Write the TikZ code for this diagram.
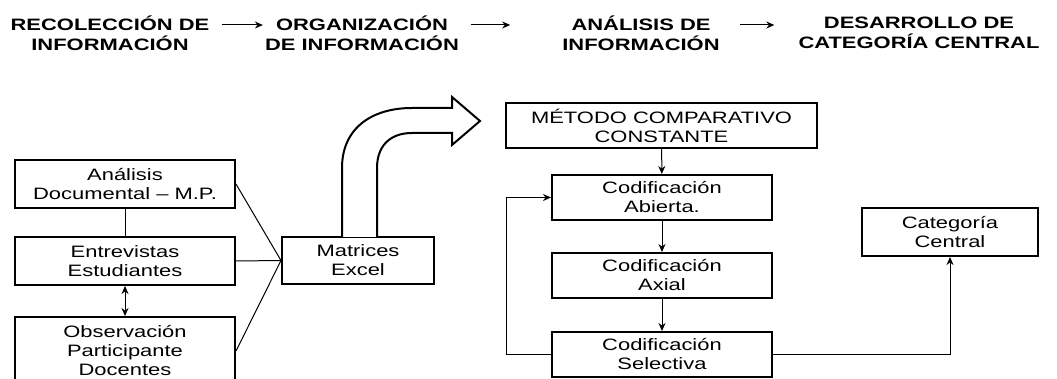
\documentclass[tikz,border=0pt]{standalone}
\usepackage{fontspec}
\setmainfont{Liberation Sans}[FakeStretch=1.33]
\usetikzlibrary{arrows.meta,positioning}

\tikzset{
  BoxStyle/.style={draw, line width=2pt, align=center, inner sep=0pt,
    font=\fontsize{16.5pt}{19pt}\selectfont},
  HeadStyle/.style={align=center, inner sep=0pt,
    font=\fontsize{16.5pt}{20pt}\selectfont\bfseries},
  LinkStyle/.style={line width=1pt},
  ArrowStyle/.style={LinkStyle, -{Stealth[length=8pt,width=7pt]}}
}

\begin{document}
\begin{tikzpicture}[x=1pt,y=-1pt]
  \useasboundingbox (0,0) rectangle (1057,379);

  % stages
  \node[HeadStyle] (recoleccion) at (110,33) {RECOLECCIÓN DE\\INFORMACIÓN};
  \node[HeadStyle] (organizacion) at (362,33) {ORGANIZACIÓN\\DE INFORMACIÓN};
  \node[HeadStyle] (analisisinf) at (641,33) {ANÁLISIS DE\\INFORMACIÓN};
  \node[HeadStyle] (desarrollo) at (919,33) {DESARROLLO DE\\CATEGORÍA CENTRAL};
  \draw[ArrowStyle] ([xshift=12pt]recoleccion.east |- 0,25) -- ([xshift=-2pt]organizacion.west |- 0,25);
  \draw[ArrowStyle] ([xshift=12pt]organizacion.east |- 0,25) -- ([xshift=-52pt]analisisinf.west |- 0,25);
  \draw[ArrowStyle] ([xshift=20pt]analisisinf.east |- 0,25) -- ([xshift=-24pt]desarrollo.west |- 0,25);

  % recoleccion
  \node[BoxStyle, minimum width=220pt, minimum height=48pt] (documental) at (125,184) {Análisis\\Documental -- M.P.};
  \node[BoxStyle, minimum width=220pt, minimum height=48pt] (entrevistas) at (125,261) {Entrevistas\\Estudiantes};
  \node[BoxStyle, minimum width=220pt, minimum height=68pt] (observacion) at (125,351) {Observación\\Participante\\Docentes};
  \node[BoxStyle, minimum width=152pt, minimum height=47pt] (matrices) at (358,260.5) {Matrices\\Excel};

  \draw[LinkStyle] (documental) -- (entrevistas);
  \draw[LinkStyle, {Stealth[length=8pt,width=7pt]}-{Stealth[length=8pt,width=7pt]}] (entrevistas) -- (observacion);
  \foreach \src in {documental,entrevistas,observacion}
    \draw[LinkStyle] (\src.east) -- (matrices.west);

  % curved block arrow
  \draw[line width=2pt, fill=white, line join=miter]
    (342,237) -- (342,168) .. controls (342,128) and (372,108) .. (412,108)
    -- (452,108) -- (452,97) -- (480,121) -- (452,145) -- (452,133) -- (412,133)
    .. controls (390,133) and (377,146) .. (377,168) -- (377,237);

  % analisis
  \node[BoxStyle, minimum width=311pt, minimum height=45pt] (metodo) at (661.5,125.5) {MÉTODO COMPARATIVO\\CONSTANTE};
  \node[BoxStyle, minimum width=220pt, minimum height=45pt] (abierta) at (662,197.5) {Codificación\\Abierta.};
  \node[BoxStyle, minimum width=220pt, minimum height=45pt] (axial) at (662,275.5) {Codificación\\Axial};
  \node[BoxStyle, minimum width=220pt, minimum height=45pt] (selectiva) at (662,354.5) {Codificación\\Selectiva};
  \node[BoxStyle, minimum width=176pt, minimum height=48pt] (categoria) at (950,232) {Categoría\\Central};

  \draw[ArrowStyle] (metodo) -- (abierta);
  \draw[ArrowStyle] (abierta) -- (axial);
  \draw[ArrowStyle] (axial) -- (selectiva);
  \draw[ArrowStyle] (selectiva.west) -- ++(-45,0) |- (abierta.west);
  \draw[ArrowStyle] (selectiva.east) -| (categoria.south);
\end{tikzpicture}
\end{document}
